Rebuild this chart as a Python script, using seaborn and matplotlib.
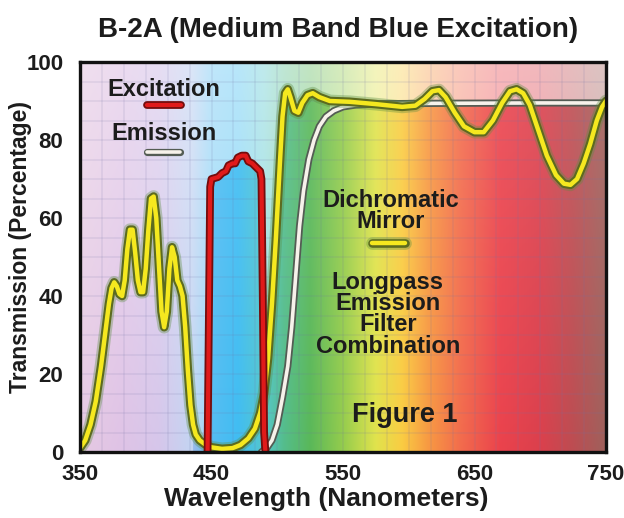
import numpy as np
import matplotlib
matplotlib.use("Agg")
import matplotlib.pyplot as plt
import seaborn as sns
from matplotlib.patches import Polygon
from matplotlib import patheffects as pe
from matplotlib.ticker import MultipleLocator

# Dichromatic mirror + longpass emission filter combination (yellow trace)
dichro_nm = [350, 354, 358, 362, 366, 369, 372, 374, 376, 378, 380, 382, 384, 386,
             388, 390, 392, 394, 396, 398, 400, 402, 404, 406, 408, 410, 412, 414,
             416, 418, 420, 422, 424, 426, 428, 430, 432, 434, 436, 438, 441, 445,
             450, 458, 466, 472, 478, 483, 487, 490, 493, 496, 499, 502, 504, 506,
             508, 510, 513, 516, 519, 523, 527, 532, 540, 555, 575, 595, 605, 612,
             618, 623, 628, 635, 642, 650, 657, 664, 671, 677, 682, 687, 692, 698,
             705, 712, 718, 723, 728, 733, 738, 743, 747, 750]
dichro_pct = [1, 3, 7, 13, 22, 30, 38, 42, 43.5, 42.5, 40.5, 40, 44, 52,
              57, 57, 51, 44, 41, 41, 47, 57, 65, 65.5, 60, 48, 36, 32,
              36, 47, 52.5, 50, 44, 42.5, 40, 32, 21, 12, 7, 4.5, 3, 2,
              1.2, 0.8, 1, 1.8, 3.5, 6, 10, 15, 24, 38, 55, 74, 86, 92,
              93, 91, 87.5, 87, 89.5, 91.5, 92, 91, 90, 89.8, 89.2, 88.5, 88.8, 90.5,
              92.5, 92.8, 91, 87, 83.5, 82, 82, 85, 89.5, 92.5, 93, 92, 89, 83,
              76, 71, 68.8, 68.5, 70, 74, 79, 85, 88.5, 90]

# Excitation filter (red trace)
excit_nm = [447, 449, 450, 455, 458, 461, 463, 466, 468, 470, 473, 476, 478,
            481, 484, 487, 488, 489, 490, 491]
excit_pct = [0, 68, 70, 70.5, 71.5, 72, 73.5, 74, 74, 75.5, 76, 76, 74.5,
             74, 73, 72, 70, 40, 5, 0]

# Emission filter (white trace)
emiss_nm = [488, 492, 496, 500, 504, 508, 511, 514, 517, 520, 524, 528, 532,
            537, 543, 550, 560, 580, 620, 700, 750]
emiss_pct = [0, 1, 3, 7, 14, 22, 32, 45, 58, 67, 75, 80, 83.5,
             86, 87.5, 88.5, 89, 89.3, 89.4, 89.5, 89.5]

x_ticks = [350, 450, 550, 650, 750]
y_ticks = [0, 20, 40, 60, 80, 100]

sns.set_theme(style="white")
plt.rcParams['font.family'] = ['Liberation Sans', 'DejaVu Sans']
plt.rcParams['font.weight'] = 'bold'
TXT = '#1c1c1c'

fig = plt.figure(figsize=(6.24, 5.18), dpi=100)
ax = fig.add_axes([80 / 624, 1 - 452 / 518, 526 / 624, 390 / 518])
ax.set_xlim(350, 750)
ax.set_ylim(0, 100)

# --- visible-spectrum backdrop -------------------------------------------
stop_nm = [350, 380, 410, 435, 450, 470, 490, 505, 525, 550, 575, 595, 615,
           640, 670, 700, 725, 750]
stop_rgb = np.array([
    (0.84, 0.66, 0.82), (0.80, 0.62, 0.84), (0.74, 0.64, 0.87), (0.62, 0.73, 0.92),
    (0.33, 0.74, 0.95), (0.25, 0.74, 0.95), (0.33, 0.78, 0.80), (0.33, 0.74, 0.55),
    (0.35, 0.72, 0.35), (0.58, 0.80, 0.30), (0.88, 0.89, 0.30), (0.98, 0.80, 0.26),
    (0.97, 0.60, 0.26), (0.95, 0.42, 0.30), (0.92, 0.26, 0.30), (0.86, 0.25, 0.30),
    (0.74, 0.30, 0.32), (0.62, 0.38, 0.36)])
wl = np.linspace(350, 750, 800)
base = np.stack([np.interp(wl, stop_nm, stop_rgb[:, k]) for k in range(3)], axis=-1)
ny = 200
frac = np.linspace(0, 1, ny)[:, None, None]
sat = np.broadcast_to(base[None], (ny, wl.size, 3))
sat_img = sat * (1 - 0.12 * frac) + 0.12 * frac
pale_w = 0.38 + 0.25 * frac
pale_img = sat * (1 - pale_w) + pale_w

ext = [350, 750, 0, 100]
ax.imshow(pale_img, extent=ext, aspect='auto', origin='lower', zorder=0,
          interpolation='bilinear')


def region(xs, ys):
    pts = list(zip(xs, ys)) + [(xs[-1], 0), (xs[0], 0)]
    return Polygon(pts, closed=True, transform=ax.transData,
                   facecolor='none', edgecolor='none')


dn = np.array(dichro_nm)
dp = np.array(dichro_pct)
keep = (dn >= 436) & (dn <= 540)
for poly in (region(emiss_nm, emiss_pct), region(excit_nm, excit_pct),
             region(dn[keep], dp[keep])):
    im = ax.imshow(sat_img, extent=ext, aspect='auto', origin='lower', zorder=0.5,
                   interpolation='bilinear')
    im.set_clip_path(poly)

# faint graph-paper grid
ax.xaxis.set_minor_locator(MultipleLocator(400 / 24))
ax.yaxis.set_minor_locator(MultipleLocator(5))
ax.grid(which='both', color=(0.45, 0.45, 0.65), alpha=0.15, lw=1.1)
ax.set_axisbelow(False)
for gl in ax.get_xgridlines() + ax.get_ygridlines():
    gl.set_zorder(0.8)

# --- transmission traces -------------------------------------------------
def outlined(core, edge, w_core, w_edge, glow=None):
    fx = []
    if glow is not None:
        fx.append(pe.Stroke(linewidth=w_edge + 3, foreground=glow, alpha=0.35))
    fx += [pe.Stroke(linewidth=w_edge, foreground=edge), pe.Normal()]
    return dict(color=core, lw=w_core, path_effects=fx,
                solid_joinstyle='round', solid_capstyle='round')


white_style = outlined((0.97, 0.95, 0.92), (0.33, 0.36, 0.33), 2.6, 5.2)
red_style = outlined((0.88, 0.10, 0.10), (0.45, 0.05, 0.05), 3.0, 5.6)
yel_style = outlined((0.96, 0.91, 0.12), (0.36, 0.42, 0.12), 3.2, 6.2,
                     glow=(0.35, 0.55, 0.25))

sns.lineplot(x=emiss_nm, y=emiss_pct, ax=ax, estimator=None, sort=False,
             zorder=3, **white_style)
sns.lineplot(x=dichro_nm, y=dichro_pct, ax=ax, estimator=None, sort=False,
             zorder=4, **yel_style)
sns.lineplot(x=excit_nm, y=excit_pct, ax=ax, estimator=None, sort=False,
             zorder=5, **red_style)

# --- key labels and swatches --------------------------------------------
lab = dict(color=TXT, fontsize=17, fontweight='bold', ha='center', va='center',
           zorder=6, linespacing=0.9)
ax.text(414, 93.0, 'Excitation', **lab)
ax.plot([401, 427], [89, 89], zorder=6, **red_style)
ax.text(414, 81.6, 'Emission', **lab)
ax.plot([401, 426], [76.8, 76.8], zorder=6, **white_style)
ax.text(586, 61.8, 'Dichromatic\nMirror', **lab)
ax.plot([572, 597], [53.6, 53.6], zorder=6, **yel_style)
ax.text(584, 35.3, 'Longpass\nEmission\nFilter\nCombination', **lab)
ax.text(597, 9.6, 'Figure 1', color=TXT, fontsize=19.5, fontweight='bold',
        ha='center', va='center', zorder=6)

# --- axes furniture ------------------------------------------------------
ax.set_xticks(x_ticks)
ax.set_yticks(y_ticks)
ax.tick_params(which='major', direction='in', length=9, width=2.2, color='#111111',
               labelsize=16, labelcolor=TXT)
ax.tick_params(axis='x', which='major', pad=9)
ax.tick_params(axis='y', which='major', pad=12)
ax.tick_params(which='minor', length=0)
for lbl in ax.get_xticklabels() + ax.get_yticklabels():
    lbl.set_fontweight('bold')
for sp in ax.spines.values():
    sp.set_visible(True)
    sp.set_color('#111111')
    sp.set_linewidth(2.4)
    sp.set_zorder(7)

ax.set_xlabel('Wavelength (Nanometers)', fontsize=19, fontweight='bold', color=TXT)
ax.xaxis.set_label_coords(0.468, -0.089)
ax.set_ylabel('Transmission (Percentage)', fontsize=16.5, fontweight='bold', color=TXT)
ax.yaxis.set_label_coords(-0.092, 0.525)
fig.text(338 / 624, 1 - 30 / 518, 'B-2A (Medium Band Blue Excitation)', fontsize=20,
         fontweight='bold', color=TXT, ha='center', va='center')

fig.savefig('out.png', dpi=100, facecolor='white')
